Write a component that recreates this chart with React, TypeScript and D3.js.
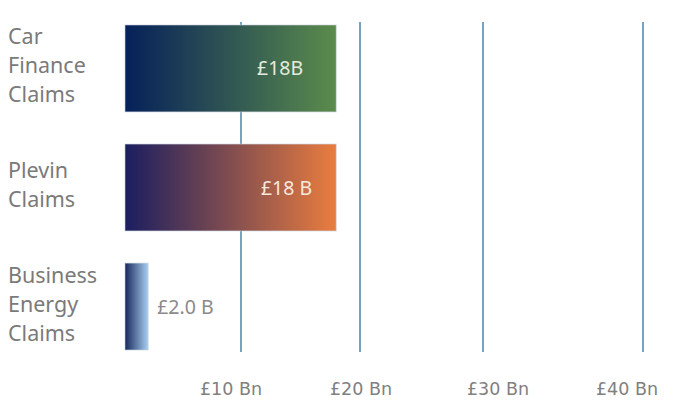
import React from 'react';
import * as d3 from 'd3';

// categories (label lines), values and tick labels
const categories = ['Car Finance Claims', 'Plevin Claims', 'Business Energy Claims'];
const categoryLines = [['Car', 'Finance', 'Claims'], ['Plevin', 'Claims'], ['Business', 'Energy', 'Claims']];
const values = [18, 18, 2.0];
const valueLabels = ['£18B', '£18 B', '£2.0 B'];
const tickValues = [10, 20, 30, 40];
const tickLabels = ['£10 Bn', '£20 Bn', '£30 Bn', '£40 Bn'];
const gradients = [
  ['#06205a', '#5b8c4c'],
  ['#1a1e60', '#ea7d3f'],
  ['#16295c', '#a9cff2'],
];

const W = 677;
const H = 406;

const App: React.FC = () => {
  // the source graphic spaces its gridlines unevenly, so a piecewise scale follows it
  const x = d3.scaleLinear()
    .domain([0, 10, 20, 30, 40])
    .range([125, 241, 360, 483, 643]);

  const y = d3.scaleBand<string>()
    .domain(categories)
    .range([25, 350])
    .paddingInner(0.27)
    .paddingOuter(0);

  const labelFont = "'Noto Sans', 'Open Sans', sans-serif";
  // tick labels in the source sit a little off their gridlines
  const tickShift = [-10, 1, 15, -16];

  return (
    <svg width={W} height={H} style={{ position: 'absolute', left: 0, top: 0 }}>
      <defs>
        {gradients.map((g, i) => (
          <linearGradient key={i} id={`grad${i}`} x1="0" x2="1" y1="0" y2="0">
            <stop offset="0%" stopColor={g[0]} />
            <stop offset="100%" stopColor={g[1]} />
          </linearGradient>
        ))}
      </defs>
      <rect width={W} height={H} fill="#fff" />

      {/* gridlines */}
      {tickValues.map((t) => (
        <line key={t} x1={x(t)} x2={x(t)} y1={22} y2={352} stroke="#76a3c0" strokeWidth={2} />
      ))}

      {/* bars */}
      {categories.map((c, i) => {
        const y0 = y(c) as number;
        const bw = y.bandwidth();
        const small = x(values[i]) - x(0) < 60;
        return (
          <g key={c}>
            <rect
              x={x(0)}
              y={y0}
              width={x(values[i]) - x(0)}
              height={bw}
              fill={`url(#grad${i})`}
              stroke="rgba(200,210,220,0.6)"
              strokeWidth={1}
            />
            <text
              x={small ? x(values[i]) + 9 : x(values[i]) - (i === 0 ? 33 : 24)}
              y={y0 + bw / 2 + 7}
              textAnchor={small ? 'start' : 'end'}
              fontFamily={labelFont}
              fontSize={19.5}
              fill={small ? '#8a8a8a' : i === 0 ? '#e4ecdf' : '#f8e9de'}
            >
              {valueLabels[i]}
            </text>
            <text x={8} fontFamily={labelFont} fontSize={21.5} fill="#7a7a7a">
              {categoryLines[i].map((line, j) => {
                const n = categoryLines[i].length;
                const lh = 29;
                const base = y0 + bw / 2 - ((n - 1) * lh) / 2 + 5;
                return (
                  <tspan key={j} x={8} y={base + j * lh}>{line}</tspan>
                );
              })}
            </text>
          </g>
        );
      })}

      {/* tick labels */}
      {tickValues.map((t, i) => (
        <text
          key={t}
          x={x(t) + tickShift[i]}
          y={395}
          textAnchor="middle"
          fontFamily="'DejaVu Sans', sans-serif"
          fontSize={17.5}
          fill="#808080"
        >
          {tickLabels[i]}
        </text>
      ))}
    </svg>
  );
};

export default App;
